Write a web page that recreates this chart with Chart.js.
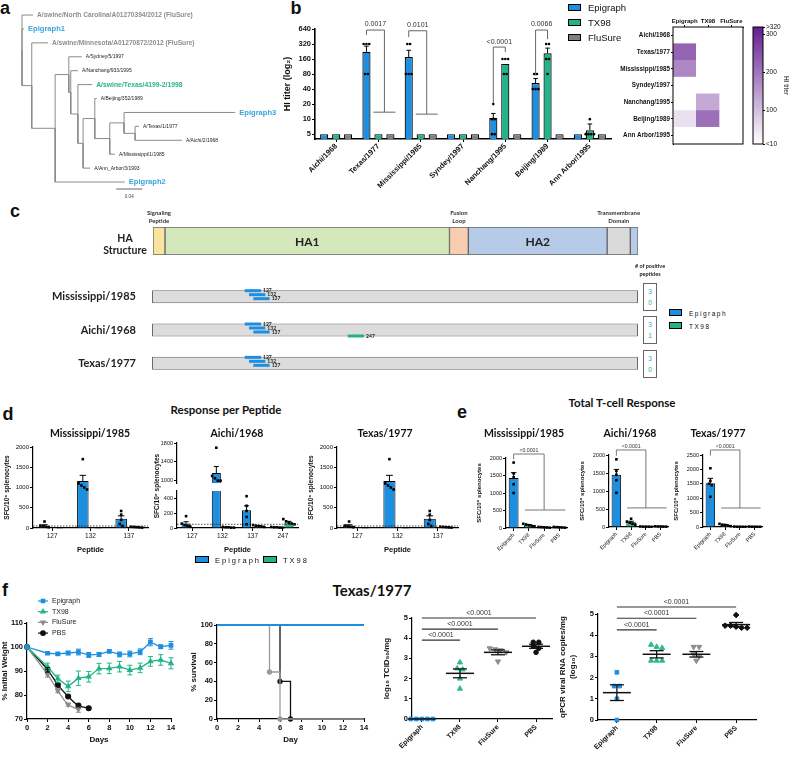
<!DOCTYPE html>
<html>
<head>
<meta charset="utf-8">
<script src="https://cdn.jsdelivr.net/npm/chart.js@4.4.1/dist/chart.umd.min.js"></script>
<style>
  body { margin:0; width:792px; height:757px; position:relative; overflow:hidden; background:#fff; }
  canvas { position:absolute; }
  .t { position:absolute; white-space:nowrap; color:#111; font-family:'Liberation Sans',Arial,sans-serif; line-height:1.1; }
  .cal { font-family:Lato,'Open Sans',sans-serif; font-weight:bold; }
</style>
</head>
<body>
<script>
// ---- a: phylogeny (branch depth in subst./site, leaves in drawing order) ----
const treeLeaves = ['A/swine/North Carolina/A01270394/2012 (FluSure)', 'Epigraph1', 'A/swine/Minnesota/A01270872/2012 (FluSure)',
  'A/Sydney/5/1997', 'A/Nanchang/933/1995', 'A/swine/Texas/4199-2/1998', 'A/Beijing/352/1989', 'Epigraph3',
  'A/Texas/1/1977', 'A/Aichi/2/1968', 'A/Mississippi/1/1985', 'A/Ann_Arbor/3/1993', 'Epigraph2'];
const leafGroup = ['flusure', 'epigraph', 'flusure', 'ref', 'ref', 'tx98', 'ref', 'epigraph', 'ref', 'ref', 'ref', 'ref', 'epigraph'];
const leafDepth = [0.017, 0.003, 0.040, 0.092, 0.086, 0.108, 0.115, 0.328, 0.180, 0.246, 0.143, 0.105, 0.158];
const leafParent = ['R', 'R', 'N1', 'N3', 'N4', 'N5', 'N7', 'N9', 'N10', 'N10', 'N8', 'N6', 'N2'];
const nodeIds = ['R', 'N1', 'N2', 'N3', 'N4', 'N5', 'N6', 'N7', 'N8', 'N9', 'N10'];
const nodeParent = [null, 'R', 'N1', 'N2', 'N3', 'N4', 'N5', 'N6', 'N7', 'N8', 'N9'];
const nodeDepth = [0, 0.015, 0.051, 0.072, 0.075, 0.086, 0.094, 0.112, 0.135, 0.157, 0.174];

// ---- b: HI titers ----
const bStrains = ['Aichi/1968', 'Texas/1977', 'Mississippi/1985', 'Syndey/1997', 'Nanchang/1995', 'Beijing/1989', 'Ann Arbor/1995'];
const bTicks = [5, 10, 20, 40, 80, 160, 320, 640];
const bEpiMean = [5, 224, 176, 5, 10.5, 53, 5];
const bEpiSem = [0, 66, 64, 0, 2.5, 12, 0];
const bTxMean = [5, 5, 5, 5, 128, 208, 6];
const bTxSem = [0, 0, 0, 0, 0, 57, 2];
const bFsMean = [5, 5, 5, 5, 5, 5, 5];
const bEpiPts = [[5, 5, 5, 5, 5], [320, 320, 320, 80, 80], [320, 320, 80, 80, 80], [5, 5, 5, 5, 5], [20, 10, 10, 5, 5], [80, 80, 40, 40, 40], [5, 5, 5, 5, 5]];
const bTxPts = [[5, 5, 5, 5, 5], [5, 5, 5, 5, 5], [5, 5, 5, 5, 5], [5, 5, 5, 5, 5], [160, 160, 160, 80, 80], [320, 320, 160, 160, 80], [10, 5, 5, 5, 5]];
const bBrackets = [
  { cat: 1, kind: 'group', top: 610, leg1: 485, grp: 13.8, label: '0.0017' },
  { cat: 2, kind: 'group', top: 590, leg1: 440, grp: 12.6, label: '0.0101' },
  { cat: 4, kind: 'pair', top: 278, leg1: 21, leg2: 220, label: '<0.0001' },
  { cat: 5, kind: 'pair', top: 610, leg1: 75, leg2: 400, label: '0.0066' }
];
const heatCols = ['Epigraph', 'TX98', 'FluSure'];
const cbTicks = [10, 100, 200, 300, 320];
const cbLabels = ['<10', '100', '200', '300', '>320'];

// ---- c: HA map (residue positions) ----
const haDomains = ['Signaling Peptide', 'HA1', 'Fusion Loop', 'HA2', 'Transmembrane Domain', ''];
const haRanges = [[0, 14], [14, 346], [346, 368], [368, 530], [530, 557], [557, 566]];
const cStrains = ['Mississippi/1985', 'Aichi/1968', 'Texas/1977'];
const cPep127 = [[108, 127], [108, 127], [108, 127]];
const cPep132 = [[113, 132], [113, 132], [113, 132]];
const cPep137 = [[118, 137], [118, 137], [118, 137]];
const cPep247 = [null, [228, 247], null];
const cEpiCount = [3, 3, 3];
const cTxCount = [0, 1, 0];

// ---- d: response per peptide ----
const dPepMT = ['127', '132', '137'];
const dPepA = ['127', '132', '137', '247'];
const dMissEpi = [55, 1160, 230], dMissEpiSem = [25, 140, 70];
const dMissTx = [5, 5, 20], dMissTxSem = [2, 2, 5];
const dMissEpiPts = [[160, 60, 40, 30, 20], [1700, 1100, 1050, 1000, 950], [420, 330, 200, 100, 50]];
const dMissTxPts = [[5, 5, 5, 5, 5], [5, 5, 5, 5, 5], [30, 25, 20, 15, 10]];
const dAichiEpi = [60, 1160, 240, 10], dAichiEpiSem = [25, 140, 60, 3];
const dAichiTx = [5, 10, 25, 75], dAichiTxSem = [2, 3, 8, 15];
const dAichiEpiPts = [[160, 60, 40, 30, 20], [1700, 1100, 1050, 1000, 1000], [430, 300, 230, 150, 50], [15, 10, 10, 5, 5]];
const dAichiTxPts = [[5, 5, 5, 5, 5], [15, 10, 10, 5, 5], [40, 30, 25, 20, 15], [120, 90, 70, 60, 50]];
const dTexEpi = [55, 1160, 230], dTexEpiSem = [25, 140, 70];
const dTexTx = [5, 5, 20], dTexTxSem = [2, 2, 5];
const dTexEpiPts = [[160, 60, 40, 30, 20], [1700, 1100, 1050, 1000, 950], [420, 330, 200, 100, 50]];
const dTexTxPts = [[5, 5, 5, 5, 5], [5, 5, 5, 5, 5], [30, 25, 20, 15, 10]];
const dCutoff = 50;

// ---- e: total T-cell response ----
const eGroups = ['Epigraph', 'TX98', 'FluSure', 'PBS'];
const eMiss = [1430, 80, 20, 20], eMissSem = [150, 20, 5, 5];
const eMissPts = [[1870, 1560, 1450, 1250, 1000], [120, 100, 80, 60, 50], [30, 25, 20, 15, 10], [30, 25, 20, 15, 10]];
const eAichi = [1450, 130, 10, 15], eAichiSem = [150, 30, 3, 3];
const eAichiPts = [[1880, 1560, 1450, 1300, 950], [230, 150, 120, 90, 60], [15, 10, 10, 8, 5], [20, 15, 15, 10, 10]];
const eTex = [1520, 70, 10, 10], eTexSem = [170, 20, 3, 3];
const eTexPts = [[2040, 1600, 1500, 1450, 1050], [110, 80, 70, 50, 30], [15, 10, 10, 8, 5], [15, 10, 10, 8, 5]];

// ---- f: Texas/1977 challenge ----
const fDays = [0, 2, 3, 4, 5, 6, 7, 8, 9, 10, 11, 12, 13, 14];
const fEpiW = [100, 97.4, 97.1, 97.5, 97.9, 96.7, 96.9, 98.2, 96.9, 97.1, 98, 102, 100.1, 100.7];
const fEpiWSem = [0, 0.5, 0.6, 0.8, 1.2, 1, 0.8, 0.5, 1, 1.2, 1.2, 1.5, 0.8, 1.6];
const fTxW = [100, 91.8, 86.8, 83.6, 87, 87.6, 91, 91.1, 91.8, 90.4, 91.3, 94, 94.6, 93.2];
const fTxWSem = [0, 1.5, 1.5, 2.2, 3, 2.2, 2.2, 2.2, 2.2, 2, 2, 2, 2.2, 2.3];
const fFsDays = [0, 2, 3, 4, 5];
const fFsW = [100, 88.5, 81.8, 76, 74];
const fFsWSem = [0, 1, 0.8, 0.6, 1.2];
const fPbsDays = [0, 2, 3, 4, 5, 6];
const fPbsW = [100, 90.5, 84.2, 79.4, 75.6, 74.5];
const fPbsWSem = [0, 1, 0.5, 0.5, 0.5, 0.3];
const survEpiDays = [0, 14], survEpi = [100, 100];
const survTxDays = [0, 14], survTx = [100, 100];
const survFsDays = [0, 5, 6, 14], survFs = [100, 50, 0, 0];
const survPbsDays = [0, 6, 7, 14], survPbs = [100, 40, 0, 0];
const fGroups = ['Epigraph', 'TX98', 'FluSure', 'PBS'];
const fTcidPts = [[0, 0, 0, 0, 0], [2.8, 2.5, 2.45, 2.0, 1.5], [3.5, 3.45, 3.4, 3.3, 2.85], [3.8, 3.8, 3.6, 3.5, 3.3]];
const fTcidMean = [0, 2.26, 3.3, 3.6], fTcidSem = [0, 0.22, 0.12, 0.1];
const fTcidBr = [{ to: 1, y: 3.9 }, { to: 2, y: 4.45 }, { to: 3, y: 5.0 }];
const fPcrPts = [[2.25, 1.6, 1.6, 1.0, 0], [3.55, 3.45, 3.4, 2.8, 2.8, 2.8], [3.45, 3.45, 3.1, 3.0, 2.8], [4.95, 4.45, 4.45, 4.4, 4.35, 4.35]];
const fPcrMean = [1.29, 3.1, 3.1, 4.5], fPcrSem = [0.37, 0.17, 0.13, 0.1];
const fPcrBr = [{ to: 1, y: 4.25 }, { to: 2, y: 4.8 }, { to: 3, y: 5.33 }];

// ---------- styles / helpers ----------
const BLUE = '#1d8fe1', GREEN = '#20b589', GRAY = '#808080', EPI_TXT = '#3ba4dc';
const SANS = "'Liberation Sans', Arial, sans-serif", CAL = "Lato, 'Open Sans', sans-serif";
Chart.defaults.font.family = SANS;
Chart.defaults.font.size = 7;
Chart.defaults.color = '#111';
Chart.defaults.animation = false;
Chart.defaults.responsive = false;
Chart.defaults.plugins.legend.display = false;
Chart.defaults.plugins.tooltip.enabled = false;

function merge(a, b) {
  for (const k in b) {
    if (b[k] && typeof b[k] === 'object' && !Array.isArray(b[k]) && a[k] && typeof a[k] === 'object') merge(a[k], b[k]);
    else a[k] = b[k];
  }
  return a;
}
const AX = () => ({
  grid: { drawOnChartArea: false, color: '#000', tickLength: 3, lineWidth: 1 },
  border: { color: '#000', width: 1.2 },
  ticks: { color: '#111', font: { size: 6.5 }, padding: 1 },
  title: { display: false, color: '#111', font: { size: 7, weight: 'bold' }, padding: 0 }
});
const plain = v => String(v);

function txt(s, x, y, css, anchor, rot, cls) {
  const d = document.createElement('div');
  d.className = 't' + (cls ? ' ' + cls : '');
  d.textContent = s;
  d.style.cssText += css || '';
  d.style.left = x + 'px';
  d.style.top = y + 'px';
  const tr = { c: 'translate(-50%,-50%)', l: 'translate(0,-50%)', r: 'translate(-100%,-50%)' }[anchor || 'c'];
  d.style.transform = tr + (rot ? ' rotate(' + rot + 'deg)' : '');
  document.body.appendChild(d);
  return d;
}

// chart area is placed exactly at box (page px); m = room for axes
function makeChart(box, m, cfg) {
  const [x0, y0, x1, y1] = box;
  const w = x1 - x0 + m.l + m.r, h = y1 - y0 + m.t + m.b;
  const c = document.createElement('canvas');
  c.width = w; c.height = h;
  Object.assign(c.style, { left: (x0 - m.l) + 'px', top: (y0 - m.t) + 'px', width: w + 'px', height: h + 'px' });
  document.body.appendChild(c);
  const pad = { left: m.l, top: m.t, right: m.r, bottom: m.b };
  const sc = cfg.options.scales || {};
  Object.keys(sc).forEach(k => {
    const s = sc[k];
    if (s.display === false) return;
    const pos = s.position || (k === 'x' ? 'bottom' : 'left');
    const size = { left: m.l, right: m.r, top: m.t, bottom: m.b }[pos];
    pad[pos] = 0;
    s.afterFit = a => {
      if (pos === 'left' || pos === 'right') a.width = size; else a.height = size;
      a.paddingLeft = a.paddingRight = a.paddingTop = a.paddingBottom = 0;
    };
  });
  cfg.options.layout = { padding: pad };
  return new Chart(c, cfg);
}

function spread(ys, gap, sp) {
  const idx = ys.map((_, i) => i).sort((a, b) => ys[a] - ys[b]);
  const off = new Array(ys.length).fill(0);
  let g = [idx[0]];
  const flush = () => g.forEach((k, j) => { off[k] = (j - (g.length - 1) / 2) * sp; });
  for (let j = 1; j < idx.length; j++) {
    if (Math.abs(ys[idx[j]] - ys[g[g.length - 1]]) < gap) g.push(idx[j]);
    else { flush(); g = [idx[j]]; }
  }
  flush();
  return off;
}
function lines(ctx, pts, color, lw) {
  ctx.save();
  ctx.strokeStyle = color || '#666'; ctx.lineWidth = lw || 1;
  ctx.beginPath();
  pts.forEach((p, i) => i ? ctx.lineTo(p[0], p[1]) : ctx.moveTo(p[0], p[1]));
  ctx.stroke();
  ctx.restore();
}
function label(ctx, s, x, y, font, color, align, base) {
  ctx.save();
  ctx.font = font; ctx.fillStyle = color || '#333';
  ctx.textAlign = align || 'center'; ctx.textBaseline = base || 'bottom';
  ctx.fillText(s, x, y);
  ctx.restore();
}

// error bars (upper SEM) and individual dots on bars
const barExtras = {
  id: 'barExtras',
  afterDatasetsDraw(chart) {
    const { ctx, chartArea: a } = chart;
    const y = chart.scales.y;
    ctx.save();
    ctx.beginPath(); ctx.rect(a.left - 8, a.top - 1, a.right - a.left + 16, a.bottom - a.top + 2); ctx.clip();
    chart.data.datasets.forEach((ds, di) => {
      const meta = chart.getDatasetMeta(di);
      if (meta.type !== 'bar') return;
      meta.data.forEach((bar, i) => {
        const v = ds.data[i];
        if (v == null) return;
        if (ds.errUp && ds.errUp[i]) {
          const t = y.getPixelForValue(v + ds.errUp[i]), yb = y.getPixelForValue(v), cw = bar.width * 0.28;
          ctx.strokeStyle = '#000'; ctx.lineWidth = 1;
          ctx.beginPath(); ctx.moveTo(bar.x, yb); ctx.lineTo(bar.x, t);
          ctx.moveTo(bar.x - cw, t); ctx.lineTo(bar.x + cw, t); ctx.stroke();
        }
        const pts = ds.dots && ds.dots[i];
        // a group sitting entirely at the bar value (detection limit) hides inside the bar outline
        if (pts && pts.some(p => p !== v)) {
          const ys = pts.map(d => y.getPixelForValue(d));
          const off = spread(ys, 2.6, 2.8);
          ctx.fillStyle = ds.dotColor || '#000';
          ys.forEach((py, k) => {
            const px = bar.x + off[k];
            if (ds.dotShape === 'square') ctx.fillRect(px - 1.3, py - 1.3, 2.6, 2.6);
            else { ctx.beginPath(); ctx.arc(px, py, 1.3, 0, 7); ctx.fill(); }
          });
        }
      });
    });
    ctx.restore();
  }
};
function cutoffLine(v) {
  return { id: 'cut', afterDatasetsDraw(chart) {
    const a = chart.chartArea, y = chart.scales.y.getPixelForValue(v), ctx = chart.ctx;
    ctx.save(); ctx.setLineDash([1.5, 1.5]); lines(ctx, [[a.left, y], [a.right, y]], '#222', 0.8); ctx.restore();
  } };
}
const frame = { id: 'frame', afterDraw(chart) {
  const a = chart.chartArea, ctx = chart.ctx;
  ctx.save(); ctx.strokeStyle = '#000'; ctx.lineWidth = 1; ctx.strokeRect(a.left, a.top, a.right - a.left, a.bottom - a.top); ctx.restore();
} };

// ---------- panel labels ----------
txt('a', 5, 8, 'font:bold 18px ' + SANS);
txt('b', 296, 8, 'font:bold 18px ' + SANS);
txt('c', 15, 211, 'font:bold 18px ' + SANS);
txt('d', 8, 414, 'font:bold 18px ' + SANS);
txt('e', 462, 412, 'font:bold 18px ' + SANS);
txt('f', 5, 590, 'font:bold 18px ' + SANS);

// ---------- a: tree ----------
(function () {
  const nodes = {};
  nodeIds.forEach((id, i) => { nodes[id] = { x: nodeDepth[i], parent: nodeParent[i], kids: [] }; });
  const leaves = treeLeaves.map((n, i) => ({ x: leafDepth[i], y: i, parent: leafParent[i], name: n, group: leafGroup[i] }));
  leaves.forEach(l => nodes[l.parent].kids.push(l));
  nodeIds.forEach(id => { const p = nodes[id].parent; if (p) nodes[p].kids.push(nodes[id]); });
  const yOf = n => {
    if (n.y !== undefined) return n.y;
    const ys = n.kids.map(yOf);
    n.y = (Math.min(...ys) + Math.max(...ys)) / 2;
    return n.y;
  };
  yOf(nodes.R);
  const edges = [];
  leaves.forEach(l => edges.push([nodes[l.parent], l]));
  nodeIds.forEach(id => { const p = nodes[id].parent; if (p) edges.push([nodes[p], nodes[id]]); });
  const ds = edges.map(([p, c]) => ({
    data: [{ x: p.x, y: p.y }, { x: p.x, y: c.y }, { x: c.x, y: c.y }],
    showLine: true, borderColor: '#8a8a8a', borderWidth: 1, pointRadius: 0, clip: false
  }));
  ds.push({ data: [{ x: 0.145, y: 12.5 }, { x: 0.185, y: 12.5 }], showLine: true, borderColor: '#666', borderWidth: 1, pointRadius: 0 });
  const styles = {
    flusure: ['bold 6.6px ' + SANS, '#8e8e8e'],
    epigraph: ['bold 7.6px ' + SANS, EPI_TXT],
    tx98: ['bold 6.8px ' + SANS, '#2bb38a'],
    ref: ['5px ' + SANS, '#222']
  };
  const leafText = { id: 'leafText', afterDatasetsDraw(chart) {
    const { x, y } = chart.scales, ctx = chart.ctx;
    leaves.forEach(l => {
      const st = styles[l.group];
      label(ctx, l.name, x.getPixelForValue(l.x) + 4, y.getPixelForValue(l.y), st[0], st[1], 'left', 'middle');
    });
    label(ctx, '0.04', x.getPixelForValue(0.165), y.getPixelForValue(12.5) + 10, '4.5px ' + SANS, '#444', 'center', 'bottom');
  } };
  makeChart([0, 0, 290, 200], { l: 0, r: 0, t: 0, b: 0 }, {
    type: 'scatter', data: { datasets: ds },
    options: { scales: {
      x: { type: 'linear', display: false, min: -22 / 650, max: 268 / 650 },
      y: { type: 'linear', display: false, reverse: true, min: -1.08, max: 13.29 }
    } },
    plugins: [leafText]
  });
})();

// ---------- b: HI titer bars ----------
function bBracketPlugin(list) {
  return { id: 'bbr', afterDraw(chart) {
    const ctx = chart.ctx, y = chart.scales.y, m = k => chart.getDatasetMeta(k).data;
    const Y = v => y.getPixelForValue(v);
    list.forEach(b => {
      const e = m(0)[b.cat], t = m(1)[b.cat], f = m(2)[b.cat], yt = Y(b.top);
      if (b.kind === 'pair') {
        lines(ctx, [[e.x, Y(b.leg1)], [e.x, yt], [t.x, yt], [t.x, Y(b.leg2)]]);
        label(ctx, b.label, (e.x + t.x) / 2, yt - 2, '7px ' + SANS, '#333');
      } else {
        const cx = (t.x + f.x) / 2, yg = Y(b.grp);
        lines(ctx, [[e.x, Y(b.leg1)], [e.x, yt], [cx, yt], [cx, yg]]);
        lines(ctx, [[t.x - 5, yg], [f.x + 5, yg]]);
        label(ctx, b.label, (e.x + cx) / 2, yt - 2, '7px ' + SANS, '#333');
      }
    });
  } };
}
makeChart([315, 29, 611, 139], { l: 33, r: 4, t: 29, b: 55 }, {
  type: 'bar',
  data: { labels: bStrains, datasets: [
    { label: 'Epigraph', data: bEpiMean, backgroundColor: BLUE, errUp: bEpiSem, dots: bEpiPts },
    { label: 'TX98', data: bTxMean, backgroundColor: GREEN, errUp: bTxSem, dots: bTxPts },
    { label: 'FluSure', data: bFsMean, backgroundColor: GRAY }
  ] },
  options: {
    datasets: { bar: { categoryPercentage: 0.85, barPercentage: 0.68, borderColor: '#000', borderWidth: 1.2 } },
    scales: {
      x: merge(AX(), { grid: { offset: false }, border: { width: 1.6 }, ticks: { font: { size: 7.5, weight: 'bold' }, maxRotation: 45, minRotation: 45, autoSkip: false, padding: 0 } }),
      y: merge(AX(), { type: 'logarithmic', min: 4, max: 640,
        afterBuildTicks: s => { s.ticks = bTicks.map(v => ({ value: v })); },
        border: { width: 1.6 },
        ticks: { font: { size: 7.5, weight: 'bold' }, callback: plain },
        title: { display: true, text: 'HI titer (log₂)', font: { size: 9, weight: 'bold' } } })
    }
  },
  plugins: [barExtras, bBracketPlugin(bBrackets)]
});
[['Epigraph', BLUE], ['TX98', GREEN], ['FluSure', GRAY]].forEach((e, i) => {
  const b = document.createElement('div');
  b.style.cssText = `position:absolute;left:568px;top:${4 + i * 14.8}px;width:11px;height:5px;border:1.5px solid #000;background:${e[1]}`;
  document.body.appendChild(b);
  txt(e[0], 588, 7 + i * 14.8, 'font:9.5px ' + SANS, 'l');
});

// heat map
function heat(v) {
  const t = Math.max(0, Math.min(1, (v - 10) / 310));
  const mix = (a, b) => Math.round(a + (b - a) * t);
  return `rgb(${mix(255, 100)},${mix(255, 30)},${mix(255, 145)})`;
}
makeChart([673, 27, 743, 144], { l: 58, r: 2, t: 12, b: 2 }, {
  type: 'bar',
  data: { labels: heatCols, datasets: bStrains.map((s, i) => ({
    label: s, data: [1, 1, 1], backgroundColor: [bEpiMean[i], bTxMean[i], bFsMean[i]].map(heat)
  })).reverse() },
  options: {
    datasets: { bar: { categoryPercentage: 1, barPercentage: 1, borderWidth: 0 } },
    scales: {
      x: merge(AX(), { position: 'top', stacked: true, grid: { offset: false, tickLength: 2 }, border: { width: 1 },
        ticks: { font: { size: 6, weight: 'bold' }, maxRotation: 0, minRotation: 0, autoSkip: false, padding: 0 } }),
      y: merge(AX(), { stacked: true, min: 0, max: 7,
        afterBuildTicks: s => { s.ticks = bStrains.map((n, i) => ({ value: 6.5 - i })); },
        grid: { tickLength: 2 }, border: { width: 1 },
        ticks: { font: { size: 6.3, weight: 'bold' }, callback: v => bStrains[Math.round(6.5 - v)] } })
    }
  },
  plugins: [frame]
});
// colour bar
const gradientPlugin = { id: 'grad', beforeDatasetsDraw(chart) {
  const a = chart.chartArea, ctx = chart.ctx;
  const g = ctx.createLinearGradient(0, a.bottom, 0, a.top);
  g.addColorStop(0, '#ffffff'); g.addColorStop(1, 'rgb(100,30,145)');
  ctx.save(); ctx.fillStyle = g; ctx.fillRect(a.left, a.top, a.right - a.left, a.bottom - a.top);
  ctx.strokeStyle = '#000'; ctx.lineWidth = 1; ctx.strokeRect(a.left, a.top, a.right - a.left, a.bottom - a.top); ctx.restore();
} };
makeChart([753, 27, 763, 144], { l: 2, r: 28, t: 4, b: 4 }, {
  type: 'bar', data: { labels: [''], datasets: [] },
  options: { scales: {
    x: { display: false },
    y: merge(AX(), { position: 'right', min: 10, max: 320,
      afterBuildTicks: s => { s.ticks = cbTicks.map(v => ({ value: v })); },
      border: { display: false }, grid: { tickLength: 2 },
      ticks: { font: { size: 6.5 }, callback: v => cbLabels[cbTicks.indexOf(v)] },
      title: { display: true, text: 'HI titer', font: { size: 6.5, weight: 'normal' }, padding: 1 } })
  } },
  plugins: [gradientPlugin]
});

// ---------- c: HA structure and peptide map ----------
const haColors = ['#fbe3a0', '#d5e8bc', '#f8cdb0', '#b6cbe8', '#dadada', '#b6cbe8'];
const haLabels = { id: 'haLabels', afterDraw(chart) {
  const ctx = chart.ctx, x = chart.scales.x, a = chart.chartArea;
  haDomains.forEach((d, i) => {
    if (!d) return;
    const cx = x.getPixelForValue((haRanges[i][0] + haRanges[i][1]) / 2);
    if (d.indexOf(' ') < 0) label(ctx, d, cx, (a.top + a.bottom) / 2 + 1, 'bold 12px ' + CAL, '#222', 'center', 'middle');
    else {
      const w = d.split(' ');
      label(ctx, w[0], cx, a.top - 11, 'bold 6px ' + CAL, '#333');
      label(ctx, w[1], cx, a.top - 3, 'bold 6px ' + CAL, '#333');
    }
  });
} };
makeChart([153, 227, 638, 255], { l: 30, r: 30, t: 30, b: 2 }, {
  type: 'bar',
  data: { labels: ['HA'], datasets: haDomains.map((d, i) => ({ label: d, data: [haRanges[i]], backgroundColor: haColors[i], grouped: false })) },
  options: { indexAxis: 'y',
    datasets: { bar: { barPercentage: 1, categoryPercentage: 1, borderColor: '#666', borderWidth: 1, borderSkipped: false } },
    scales: { x: { display: false, min: 0, max: 566 }, y: { display: false } } },
  plugins: [haLabels]
});
txt('HA', 125, 239, 'font-size:10.5px;color:#222', 'c', 0, 'cal');
txt('Structure', 125, 251, 'font-size:10.5px;color:#222', 'c', 0, 'cal');

const pepLabels = { id: 'pepLabels', afterDatasetsDraw(chart) {
  const ctx = chart.ctx;
  chart.data.datasets.forEach((ds, di) => {
    if (!ds.label) return;
    chart.getDatasetMeta(di).data.forEach((el, i) => {
      if (ds.data[i] == null) return;
      label(ctx, ds.label, el.x + 2, el.y, 'bold 5px ' + CAL, '#222', 'left', 'middle');
    });
  });
} };
makeChart([152, 280, 638, 380], { l: 152, r: 4, t: 2, b: 2 }, {
  type: 'bar',
  data: { labels: cStrains, datasets: [
    { label: '127', data: cPep127, backgroundColor: BLUE },
    { label: '132', data: cPep132, backgroundColor: BLUE },
    { label: '137', data: cPep137, backgroundColor: BLUE },
    { label: '247', data: cPep247, backgroundColor: GREEN },
    { label: '', data: cStrains.map(() => [0, 566]), backgroundColor: '#dcdcdc', borderColor: '#6a6a6a', borderWidth: 1,
      borderSkipped: false, grouped: false, barPercentage: 0.81, order: 10 }
  ] },
  options: { indexAxis: 'y',
    datasets: { bar: { categoryPercentage: 0.48, barPercentage: 0.75 } },
    scales: {
      x: { display: false, min: 0, max: 566 },
      y: { grid: { display: false }, border: { display: false }, ticks: { font: { family: CAL, size: 11, weight: 'bold' }, color: '#222', padding: 8 } }
    } },
  plugins: [pepLabels]
});
cStrains.forEach((s, i) => {
  const top = 283 + i * 33.4;
  const b = document.createElement('div');
  b.style.cssText = `position:absolute;left:643px;top:${top}px;width:12px;height:26px;border:1px solid #666;background:#fff`;
  document.body.appendChild(b);
  txt(String(cEpiCount[i]), 650, top + 8, 'font:6.5px ' + SANS + ';color:' + EPI_TXT);
  txt(String(cTxCount[i]), 650, top + 19, 'font:6.5px ' + SANS + ';color:' + GREEN);
});
txt('# of positive', 650, 266, 'font-size:5.5px;color:#222', 'c', 0, 'cal');
txt('peptides', 650, 274, 'font-size:5.5px;color:#222', 'c', 0, 'cal');
[['Epigraph', BLUE], ['TX98', GREEN]].forEach((e, i) => {
  const b = document.createElement('div');
  b.style.cssText = `position:absolute;left:669px;top:${309 + i * 13}px;width:11px;height:5px;border:1.5px solid #000;background:${e[1]}`;
  document.body.appendChild(b);
  txt(e[0], 689, 313 + i * 13, 'font:6.5px ' + SANS + ';letter-spacing:1.5px', 'l');
});

// ---------- d: response per peptide ----------
txt('Response per Peptide', 226, 410, 'font-size:11.5px;color:#111', 'c', 0, 'cal');
function dSets(epi, epiSem, epiPts, tx, txSem, txPts) {
  return [
    { label: 'Epigraph', data: epi, backgroundColor: BLUE, errUp: epiSem, dots: epiPts, dotShape: 'square' },
    { label: 'TX98', data: tx, backgroundColor: GREEN, errUp: txSem, dots: txPts, dotShape: 'square' }
  ];
}
function dOpts(yo, withX) {
  return {
    datasets: { bar: { categoryPercentage: 0.8, barPercentage: 0.75, borderColor: '#000', borderWidth: 1 } },
    scales: {
      x: withX ? merge(AX(), { grid: { offset: false }, ticks: { font: { size: 6.5 } },
        title: { display: true, text: 'Peptide', font: { size: 7.5, weight: 'bold' } } }) : { display: false },
      y: merge(AX(), merge({ ticks: { callback: plain } }, yo))
    }
  };
}
const sfcTitle = () => ({ display: true, text: 'SFC/10⁶ splenocytes', font: { size: 6.5, weight: 'bold' } });
makeChart([33, 447, 148, 528], { l: 30, r: 4, t: 8, b: 26 }, {
  type: 'bar', data: { labels: dPepMT, datasets: dSets(dMissEpi, dMissEpiSem, dMissEpiPts, dMissTx, dMissTxSem, dMissTxPts) },
  options: dOpts({ min: 0, max: 2000, ticks: { stepSize: 500, font: { size: 6 } }, title: sfcTitle() }, true),
  plugins: [barExtras, cutoffLine(dCutoff)]
});
makeChart([177, 443, 298, 483], { l: 25, r: 4, t: 6, b: 1 }, {
  type: 'bar', data: { labels: dPepA, datasets: dSets(dAichiEpi, dAichiEpiSem, dAichiEpiPts, dAichiTx, dAichiTxSem, dAichiTxPts) },
  options: dOpts({ min: 950, max: 1800, afterBuildTicks: s => { s.ticks = [1000, 1200, 1400, 1600, 1800].map(v => ({ value: v })); }, ticks: { font: { size: 5.5 } } }, false),
  plugins: [barExtras]
});
makeChart([177, 491, 298, 528], { l: 25, r: 4, t: 4, b: 26 }, {
  type: 'bar', data: { labels: dPepA, datasets: dSets(dAichiEpi, dAichiEpiSem, dAichiEpiPts, dAichiTx, dAichiTxSem, dAichiTxPts) },
  options: dOpts({ min: 0, max: 500, ticks: { stepSize: 100, font: { size: 5.5 } } }, true),
  plugins: [barExtras, cutoffLine(dCutoff)]
});
txt('SFC/10⁶ splenocytes', 156, 486, 'font:bold 6.5px ' + SANS, 'c', -90);
makeChart([337, 447, 458, 528], { l: 30, r: 4, t: 8, b: 26 }, {
  type: 'bar', data: { labels: dPepMT, datasets: dSets(dTexEpi, dTexEpiSem, dTexEpiPts, dTexTx, dTexTxSem, dTexTxPts) },
  options: dOpts({ min: 0, max: 2000, ticks: { stepSize: 500, font: { size: 6 } }, title: sfcTitle() }, true),
  plugins: [barExtras, cutoffLine(dCutoff)]
});
txt('Mississippi/1985', 90, 434, 'font-size:10.5px', 'c', 0, 'cal');
txt('Aichi/1968', 237, 434, 'font-size:10.5px', 'c', 0, 'cal');
txt('Texas/1977', 385, 434, 'font-size:10.5px', 'c', 0, 'cal');
[['Epigraph', BLUE, 195, 215], ['TX98', GREEN, 263, 283]].forEach(e => {
  const b = document.createElement('div');
  b.style.cssText = `position:absolute;left:${e[2]}px;top:556px;width:12px;height:5px;border:1.6px solid #000;background:${e[1]}`;
  document.body.appendChild(b);
  txt(e[0], e[3], 560, 'font:7.5px ' + SANS + ';letter-spacing:2px', 'l');
});

// ---------- e: total T-cell response ----------
txt('Total T-cell Response', 622, 403, 'font-size:11.5px;color:#111', 'c', 0, 'cal');
function eBracket(top, leg1, grp) {
  return { id: 'ebr', afterDraw(chart) {
    const ctx = chart.ctx, y = chart.scales.y, els = chart.getDatasetMeta(0).data;
    const ex = els[0].x, tx = els[1].x, px = els[3].x, cx = (tx + px) / 2;
    const yt = y.getPixelForValue(top), yg = y.getPixelForValue(grp);
    lines(ctx, [[ex, y.getPixelForValue(leg1)], [ex, yt], [cx, yt], [cx, yg]], '#777');
    lines(ctx, [[tx - 4, yg], [px + 6, yg]], '#777');
    label(ctx, '<0.0001', (ex + cx) / 2, yt - 1, '5.2px ' + SANS, '#333');
  } };
}
function eChart(box, vals, sem, pts, max, br) {
  return makeChart(box, { l: 30, r: 4, t: 14, b: 38 }, {
    type: 'bar',
    data: { labels: eGroups, datasets: [{ data: vals, backgroundColor: [BLUE, GREEN, GRAY, '#ffffff'], errUp: sem, dots: pts, dotShape: 'square' }] },
    options: {
      datasets: { bar: { categoryPercentage: 0.9, barPercentage: 0.72, borderColor: '#000', borderWidth: 1 } },
      scales: {
        x: merge(AX(), { grid: { offset: false }, ticks: { font: { size: 5.5 }, maxRotation: 45, minRotation: 45, autoSkip: false } }),
        y: merge(AX(), { min: 0, max: max, ticks: { stepSize: 500, font: { size: 5.5 }, callback: plain },
          title: { display: true, text: 'SFC/10⁶ splenocytes', font: { size: 6, weight: 'bold' } } })
      }
    },
    plugins: [barExtras, br]
  });
}
eChart([506, 458, 567, 528], eMiss, eMissSem, eMissPts, 2000, eBracket(2114, 1960, 514));
eChart([609, 455, 668, 527], eAichi, eAichiSem, eAichiPts, 2000, eBracket(2140, 1980, 530));
eChart([703, 455, 762, 527], eTex, eTexSem, eTexPts, 2500, eBracket(2674, 2480, 660));
txt('Mississippi/1985', 524, 434, 'font-size:10.5px', 'c', 0, 'cal');
txt('Aichi/1968', 630, 434, 'font-size:10.5px', 'c', 0, 'cal');
txt('Texas/1977', 718, 434, 'font-size:10.5px', 'c', 0, 'cal');

// ---------- f: challenge ----------
txt('Texas/1977', 372, 590, 'font-size:15px', 'c', 0, 'cal');
const errScatter = { id: 'errScatter', afterDatasetsDraw(chart) {
  const ctx = chart.ctx, y = chart.scales.y;
  chart.data.datasets.forEach((ds, di) => {
    if (!ds.errY) return;
    chart.getDatasetMeta(di).data.forEach((el, i) => {
      const s = ds.errY[i];
      if (!s) return;
      const v = ds.data[i].y, t = y.getPixelForValue(v + s), b = y.getPixelForValue(v - s);
      lines(ctx, [[el.x, t], [el.x, b]], ds.borderColor, 1);
      lines(ctx, [[el.x - 2.5, t], [el.x + 2.5, t]], ds.borderColor, 1);
      lines(ctx, [[el.x - 2.5, b], [el.x + 2.5, b]], ds.borderColor, 1);
    });
  });
} };
const f1Legend = { id: 'f1leg', afterDraw(chart) {
  const ctx = chart.ctx, a = chart.chartArea;
  chart.data.datasets.forEach((ds, i) => {
    const y = a.top - 22 + i * 10.7, x = a.left + 11;
    lines(ctx, [[x, y], [x + 10, y]], ds.borderColor, 1.2);
    ctx.save();
    ctx.fillStyle = ds.backgroundColor; ctx.strokeStyle = ds.borderColor;
    Chart.helpers.drawPoint(ctx, { pointStyle: ds.pointStyle, radius: 2.3, rotation: ds.rotation || 0, borderWidth: 1 }, x + 5, y);
    ctx.restore();
    label(ctx, ds.label, x + 14, y, '7px ' + SANS, '#222', 'left', 'middle');
  });
} };
function wSet(lbl, days, vals, sem, color, style, rot, tension) {
  return { label: lbl, data: days.map((d, i) => ({ x: d, y: vals[i] })), errY: sem, borderColor: color, backgroundColor: color,
    pointStyle: style, rotation: rot, pointRadius: 2.4, showLine: true, tension: tension, borderWidth: 1.3, clip: false };
}
const boldTicks = () => ({ font: { size: 7.5, weight: 'bold' } });
const fTitle = t => ({ display: true, text: t, font: { size: 8, weight: 'bold' } });
makeChart([27, 623, 171, 719], { l: 27, r: 6, t: 30, b: 26 }, {
  type: 'scatter',
  data: { datasets: [
    wSet('Epigraph', fDays, fEpiW, fEpiWSem, BLUE, 'rect', 0, 0),
    wSet('TX98', fDays, fTxW, fTxWSem, GREEN, 'triangle', 0, 0),
    wSet('FluSure', fFsDays, fFsW, fFsWSem, '#8c8c8c', 'triangle', 180, 0.4),
    wSet('PBS', fPbsDays, fPbsW, fPbsWSem, '#111', 'circle', 0, 0.4)
  ] },
  options: { scales: {
    x: merge(AX(), { type: 'linear', min: 0, max: 14, ticks: merge({ stepSize: 2 }, boldTicks()), title: fTitle('Days') }),
    y: merge(AX(), { min: 70, max: 110, ticks: merge({ stepSize: 10 }, boldTicks()), title: fTitle('% Initial Weight') })
  } },
  plugins: [errScatter, f1Legend]
});
function sSet(lbl, days, vals, color, width) {
  return { label: lbl, data: days.map((d, i) => ({ x: d, y: vals[i] })), borderColor: color, backgroundColor: color,
    showLine: true, stepped: true, borderWidth: width, clip: false,
    pointRadius: days.map((d, i) => (i > 0 && i < days.length - 1) ? 2 : 0) };
}
makeChart([217, 625, 364, 719], { l: 28, r: 6, t: 8, b: 26 }, {
  type: 'scatter',
  data: { datasets: [
    sSet('Epigraph', survEpiDays, survEpi, BLUE, 2.2),
    sSet('TX98', survTxDays, survTx, '#35c2c8', 1.2),
    sSet('FluSure', survFsDays, survFs, '#9a9a9a', 1.3),
    sSet('PBS', survPbsDays, survPbs, '#111', 1.3)
  ] },
  options: { scales: {
    x: merge(AX(), { type: 'linear', min: 0, max: 14, ticks: merge({ stepSize: 2 }, boldTicks()), title: fTitle('Day') }),
    y: merge(AX(), { min: 0, max: 100, ticks: merge({ stepSize: 20 }, boldTicks()), title: fTitle('% survival') })
  } }
});

const swarm = { id: 'swarm', beforeDatasetsDraw(chart) {
  chart.data.datasets.forEach((ds, di) => {
    const els = chart.getDatasetMeta(di).data;
    const off = spread(els.map(e => e.y), 4, 5.5);
    els.forEach((e, k) => { if (e._bx === undefined) e._bx = e.x; e.x = e._bx + off[k]; });
  });
} };
function meanSem(mean, sem) {
  return { id: 'meanSem', afterDatasetsDraw(chart) {
    const ctx = chart.ctx, x = chart.scales.x, y = chart.scales.y;
    mean.forEach((m, i) => {
      const px = x.getPixelForValue(i), py = y.getPixelForValue(m);
      lines(ctx, [[px - 14, py], [px + 14, py]], '#111', 1.5);
      if (sem[i]) {
        const t = y.getPixelForValue(m + sem[i]), b = y.getPixelForValue(m - sem[i]);
        lines(ctx, [[px, t], [px, b]], '#111', 1.3);
        lines(ctx, [[px - 7, t], [px + 7, t]], '#111', 1.3);
        lines(ctx, [[px - 7, b], [px + 7, b]], '#111', 1.3);
      }
    });
  } };
}
function lineBrackets(list) {
  return { id: 'lbr', afterDraw(chart) {
    const ctx = chart.ctx, x = chart.scales.x, y = chart.scales.y;
    list.forEach(b => {
      const x1 = x.getPixelForValue(0), x2 = x.getPixelForValue(b.to), py = y.getPixelForValue(b.y);
      lines(ctx, [[x1, py], [x2, py]], '#333', 1.2);
      label(ctx, '<0.0001', (x1 + x2) / 2, py - 1.5, '7px ' + SANS, '#333');
    });
  } };
}
const grpStyle = [
  { pointStyle: 'rect', backgroundColor: BLUE, borderColor: BLUE, pointRadius: 2.6 },
  { pointStyle: 'triangle', backgroundColor: '#2dbb88', borderColor: '#2dbb88', pointRadius: 3 },
  { pointStyle: 'triangle', rotation: 180, backgroundColor: '#8c8c8c', borderColor: '#8c8c8c', pointRadius: 3 },
  { pointStyle: 'circle', backgroundColor: '#111', borderColor: '#111', pointRadius: 2.3 }
];
function groupChart(box, m, pts, mean, sem, br, xmin, xmax, ymax, title, pbsStyle) {
  return makeChart(box, m, {
    type: 'scatter',
    data: { datasets: fGroups.map((g, i) => Object.assign({ label: g, data: pts[i].map(v => ({ x: i, y: v })), clip: false },
      grpStyle[i], (i === 3 && pbsStyle) ? { pointStyle: pbsStyle, pointRadius: 2.8 } : {})) },
    options: { scales: {
      x: merge(AX(), { type: 'linear', min: xmin, max: xmax,
        afterBuildTicks: s => { s.ticks = fGroups.map((g, i) => ({ value: i })); },
        ticks: { font: { size: 7, weight: 'bold' }, maxRotation: 45, minRotation: 45, callback: v => fGroups[v] } }),
      y: merge(AX(), { min: 0, max: ymax, ticks: merge({ stepSize: 1 }, boldTicks()), title: fTitle(title) })
    } },
    plugins: [swarm, meanSem(mean, sem), lineBrackets(br)]
  });
}
groupChart([412, 618, 553, 719], { l: 30, r: 4, t: 32, b: 38 }, fTcidPts, fTcidMean, fTcidSem, fTcidBr, -0.26, 3.42, 5, 'log₁₀ TCID₅₀/mg');
groupChart([598, 614, 757, 720], { l: 40, r: 4, t: 32, b: 38 }, fPcrPts, fPcrMean, fPcrSem, fPcrBr, -0.475, 3.5, 5,
  ['qPCR viral RNA copies/mg', '(log₁₀)'], 'rectRot');
</script>
</body>
</html>
